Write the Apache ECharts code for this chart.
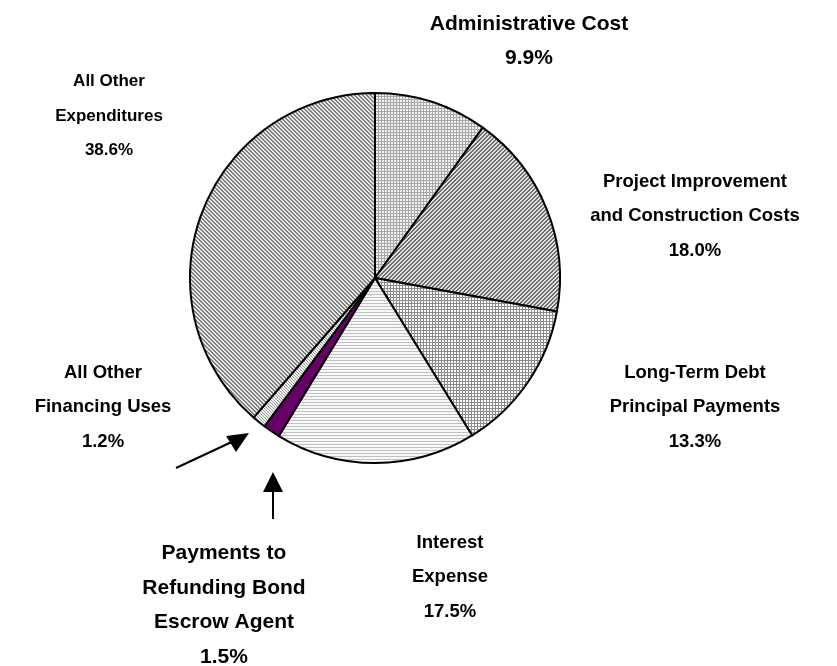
<!DOCTYPE html>
<html>
<head>
<meta charset="utf-8">
<script src="https://cdn.jsdelivr.net/npm/echarts@6/dist/echarts.min.js"></script>
<style>
  html, body { margin: 0; padding: 0; background: #ffffff; }
  #chart { width: 837px; height: 666px; }
</style>
</head>
<body>
<div id="chart"></div>
<script>
// Expenditure shares, clockwise from the top of the pie
var categories = [
  'Administrative Cost',
  'Project Improvement\nand Construction Costs',
  'Long-Term Debt\nPrincipal Payments',
  'Interest\nExpense',
  'Payments to\nRefunding Bond\nEscrow Agent',
  'All Other\nFinancing Uses',
  'All Other\nExpenditures'
];
var shares = [9.9, 18.0, 13.3, 17.5, 1.5, 1.2, 38.6];

// Label anchor points (centre of each text block) and text sizes
var labelSpots = [
  [529, 41], [695, 216], [695, 407], [450, 577], [224, 605], [103, 407], [109, 116]
];
var labelSizes = [21, 18.5, 18.5, 18.5, 21, 18.5, 17];

// Small tiled fills that imitate the print hatching
function tile(w, h, bg, cells) {
  var c = document.createElement('canvas');
  c.width = w; c.height = h;
  var g = c.getContext('2d');
  g.fillStyle = bg; g.fillRect(0, 0, w, h);
  cells.forEach(function (p) { g.fillStyle = p[2]; g.fillRect(p[0], p[1], 1, 1); });
  return { image: c, repeat: 'repeat' };
}
function grid(n, bg, col, rows, cols) {
  var cells = [];
  for (var i = 0; i < n; i++) for (var j = 0; j < n; j++) {
    if (rows.indexOf(j) >= 0 || cols.indexOf(i) >= 0) cells.push([i, j, col]);
  }
  return tile(n, n, bg, cells);
}
// diagonal band, `width` pixels thick, in an n x n tile
function diag(n, bg, col, rising, width) {
  var cells = [];
  for (var i = 0; i < n; i++) {
    for (var k = 0; k < width; k++) {
      var j = (i + k) % n;
      cells.push([i, rising ? (n - 1 - j) : j, col]);
    }
  }
  return tile(n, n, bg, cells);
}

var fills = [
  grid(3, '#f0f0f0', '#a8a8a8', [0], [0]),
  diag(4, '#e0e0e0', '#6e6e6e', true, 2),
  grid(3, '#ffffff', '#8c8c8c', [0], [0]),
  grid(3, '#f8f8f8', '#c0c0c0', [0], []),
  '#660066',
  diag(3, '#f0f0f0', '#a0a0a0', false, 1),
  diag(4, '#e8e8e8', '#808080', false, 2)
];

var chart = echarts.init(document.getElementById('chart'), null, { renderer: 'canvas' });

chart.setOption({
  animation: false,
  backgroundColor: '#ffffff',
  series: [{
    type: 'pie',
    center: [375, 278],
    radius: 185,
    startAngle: 90,
    clockwise: true,
    avoidLabelOverlap: false,
    data: categories.map(function (name, i) {
      return {
        name: name,
        value: shares[i],
        itemStyle: { color: fills[i] },
        label: { fontSize: labelSizes[i] }
      };
    }),
    itemStyle: { borderColor: '#000000', borderWidth: 2 },
    label: {
      show: true,
      position: 'outside',
      formatter: function (p) { return p.name + '\n' + p.value.toFixed(1) + '%'; },
      fontFamily: 'Liberation Sans, Arial, sans-serif',
      fontWeight: 'bold',
      lineHeight: 34.5,
      color: '#000000',
      align: 'center'
    },
    labelLine: { show: false },
    labelLayout: function (params) {
      var s = labelSpots[params.dataIndex];
      return { x: s[0], y: s[1], align: 'center', verticalAlign: 'middle' };
    },
    emphasis: { disabled: true }
  }],
  graphic: [
    // pointer towards the small financing slice
    { type: 'line', shape: { x1: 176, y1: 468, x2: 236, y2: 440 }, style: { stroke: '#000', lineWidth: 2 } },
    { type: 'polygon', shape: { points: [[249, 433], [226, 436], [236, 452]] }, style: { fill: '#000' } },
    // pointer towards the escrow slice
    { type: 'line', shape: { x1: 273, y1: 519, x2: 273, y2: 490 }, style: { stroke: '#000', lineWidth: 2 } },
    { type: 'polygon', shape: { points: [[273, 472], [263, 492], [283, 492]] }, style: { fill: '#000' } }
  ]
});
</script>
</body>
</html>
